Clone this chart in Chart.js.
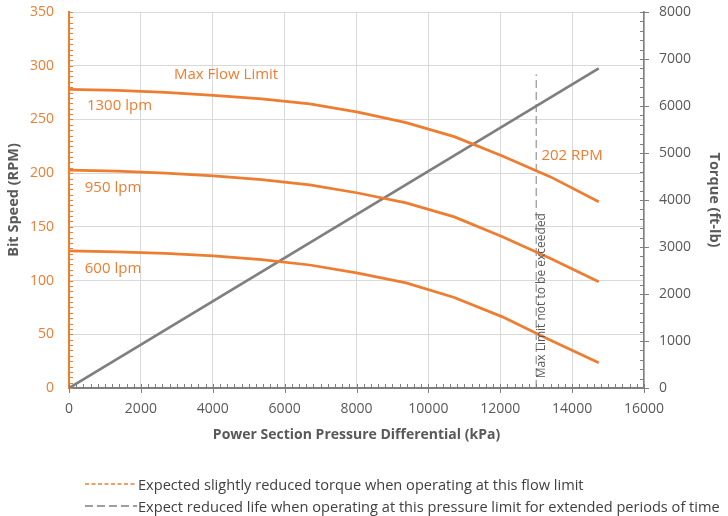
<!DOCTYPE html>
<html>
<head>
<meta charset="utf-8">
<script src="https://cdn.jsdelivr.net/npm/chart.js@4.4.0/dist/chart.umd.min.js"></script>
<style>
  html, body { margin: 0; padding: 0; background: #fff; }
  #wrap { position: relative; width: 728px; height: 516px; }
  #legend { position: absolute; left: 85px; top: 473px; font-family: "Open Sans", sans-serif; font-size: 14.6px; color: #404040; line-height: 22px; }
  #legend .row { display: flex; align-items: center; white-space: nowrap; }
  #legend svg { margin-right: 1px; }
</style>
</head>
<body>
<div id="wrap">
  <canvas id="c" width="728" height="516"></canvas>
  <div id="legend"></div>
</div>
<script>
// ---- data ----
const pressureKPa = [0, 1340, 2680, 4020, 5360, 6700, 8040, 9380, 10720, 12060, 13400, 14740];
const rpm1300 = [278, 277, 275.2, 272.5, 269.2, 264.5, 256.8, 247, 234, 216, 196.5, 173.3];
const rpm950  = [202.8, 201.8, 200, 197.5, 194, 189, 181.5, 172.3, 159.3, 140.7, 120.5, 98.8];
const rpm600  = [127.7, 126.8, 125.3, 123, 119.6, 114.5, 107, 97.9, 84.3, 66.2, 44.5, 23.4];
const torquePressure = [0, 14740];
const torqueFtLb = [0, 6800];
const limitPressure = [13000, 13000];
const limitRpm = [0, 292];
const xTicks = [0, 2000, 4000, 6000, 8000, 10000, 12000, 14000, 16000];
const yTicks = [0, 50, 100, 150, 200, 250, 300, 350];
const y2Ticks = [0, 1000, 2000, 3000, 4000, 5000, 6000, 7000, 8000];
const labels = [
  { text: "Max Flow Limit", x: 4370, y: 292 },
  { text: "1300 lpm", x: 1405, y: 262.5 },
  { text: "950 lpm", x: 1225, y: 186 },
  { text: "600 lpm", x: 1225, y: 111 },
  { text: "202 RPM", x: 14000, y: 216 }
];
const limitLabel = { text: "Max Limit not to be exceeded", x: 13150, y: 86 };
const legendItems = [
  { text: "Expected slightly reduced torque when operating at this flow limit", color: "#ED7D31", dash: "4,2.5" },
  { text: "Expect reduced life when operating at this pressure limit for extended periods of time", color: "#7F7F7F", dash: "8,4" }
];

const ORANGE = "#ED7D31";
const GRAY = "#7F7F7F";
const TXT = "#595959";
const FONT = "'Open Sans', sans-serif";

const pts = (xs, ys) => xs.map((x, i) => ({ x: x, y: ys[i] }));
const plain = v => String(v);
const noPad = s => { s.paddingTop = 0; s.paddingBottom = 0; s.paddingLeft = 0; s.paddingRight = 0; };

const extras = {
  id: "extras",
  afterDraw(chart) {
    const { ctx, chartArea: a, scales: { x, y, y2 } } = chart;
    ctx.save();
    ctx.lineWidth = 1;
    // left minor ticks
    ctx.strokeStyle = ORANGE;
    ctx.beginPath();
    for (let v = 0; v <= 350; v += 5) {
      const py = Math.round(y.getPixelForValue(v)) + 0.5;
      ctx.moveTo(a.left, py); ctx.lineTo(a.left + 4, py);
    }
    ctx.stroke();
    // bottom ticks
    ctx.strokeStyle = GRAY;
    ctx.beginPath();
    for (let v = 0; v <= 16000; v += 200) {
      const px = Math.round(x.getPixelForValue(v)) + 0.5;
      ctx.moveTo(px, a.bottom); ctx.lineTo(px, a.bottom - 4);
      if (v % 2000 === 0) { ctx.moveTo(px, a.bottom); ctx.lineTo(px, a.bottom + 5); }
    }
    // right ticks
    for (let v = 0; v <= 8000; v += 200) {
      const py = Math.round(y2.getPixelForValue(v)) + 0.5;
      ctx.moveTo(a.right, py); ctx.lineTo(a.right - 4, py);
      if (v % 1000 === 0) { ctx.moveTo(a.right, py); ctx.lineTo(a.right + 5, py); }
    }
    ctx.stroke();
    // annotation labels
    ctx.fillStyle = ORANGE;
    ctx.font = "15px " + FONT;
    ctx.textAlign = "center";
    ctx.textBaseline = "middle";
    labels.forEach(l => ctx.fillText(l.text, x.getPixelForValue(l.x), y.getPixelForValue(l.y)));
    // rotated limit label
    ctx.fillStyle = TXT;
    ctx.font = "12px " + FONT;
    ctx.translate(x.getPixelForValue(limitLabel.x), y.getPixelForValue(limitLabel.y));
    ctx.rotate(-Math.PI / 2);
    ctx.fillText(limitLabel.text, 0, 0);
    ctx.restore();
  }
};

new Chart(document.getElementById("c"), {
  type: "scatter",
  data: {
    datasets: [
      { label: "1300 lpm", data: pts(pressureKPa, rpm1300), yAxisID: "y" },
      { label: "950 lpm", data: pts(pressureKPa, rpm950), yAxisID: "y" },
      { label: "600 lpm", data: pts(pressureKPa, rpm600), yAxisID: "y" },
      { label: "Torque", data: pts(torquePressure, torqueFtLb), yAxisID: "y2", borderColor: GRAY, backgroundColor: GRAY },
      { label: "Max Limit", data: pts(limitPressure, limitRpm), yAxisID: "y", borderColor: GRAY, borderWidth: 1, borderDash: [8, 4] }
    ]
  },
  options: {
    responsive: false,
    animation: false,
    devicePixelRatio: 1,
    showLine: true,
    layout: { padding: { top: 12, left: 0, right: 0, bottom: 0 } },
    elements: {
      point: { radius: 0, hoverRadius: 0 },
      line: { borderColor: ORANGE, backgroundColor: ORANGE, borderWidth: 2.75, tension: 0, fill: false, borderCapStyle: "butt" }
    },
    plugins: { legend: { display: false }, tooltip: { enabled: false } },
    scales: {
      x: {
        type: "linear", min: 0, max: 16000,
        afterBuildTicks: s => { s.ticks = xTicks.map(v => ({ value: v })); },
        ticks: { color: TXT, font: { family: FONT, size: 14 }, padding: 13, maxRotation: 0, callback: plain },
        grid: { color: "#D9D9D9", drawTicks: false, lineWidth: 1 },
        border: { color: GRAY, width: 2 },
        title: { display: true, text: "Power Section Pressure Differential (kPa)", color: TXT, font: { family: FONT, size: 14, weight: "bold" }, padding: { top: 0, bottom: 73 } },
        afterFit: s => { s.height = 128; noPad(s); }
      },
      y: {
        type: "linear", position: "left", min: 0, max: 350,
        afterBuildTicks: s => { s.ticks = yTicks.map(v => ({ value: v })); },
        ticks: { color: ORANGE, font: { family: FONT, size: 14 }, padding: 15, callback: plain },
        grid: { color: "#D9D9D9", drawTicks: false, lineWidth: 1 },
        border: { color: ORANGE, width: 2 },
        title: { display: true, text: "Bit Speed (RPM)", color: TXT, font: { family: FONT, size: 14.5, weight: "bold" }, padding: { top: 5, bottom: 0 } },
        afterFit: s => { s.width = 69; noPad(s); }
      },
      y2: {
        type: "linear", position: "right", min: 0, max: 8000,
        afterBuildTicks: s => { s.ticks = y2Ticks.map(v => ({ value: v })); },
        ticks: { color: TXT, font: { family: FONT, size: 14 }, padding: 15, callback: plain },
        grid: { drawOnChartArea: false, drawTicks: false },
        border: { color: GRAY, width: 1.5 },
        title: { display: true, text: "Torque (ft-lb)", color: TXT, font: { family: FONT, size: 14.5, weight: "bold" }, padding: { top: 5, bottom: 0 } },
        afterFit: s => { s.width = 84; noPad(s); }
      }
    }
  },
  plugins: [extras]
});

// HTML legend
const lg = document.getElementById("legend");
legendItems.forEach(it => {
  const row = document.createElement("div");
  row.className = "row";
  row.innerHTML = '<svg width="52" height="10"><line x1="0" y1="5" x2="52" y2="5" stroke="' + it.color +
    '" stroke-width="1.3" stroke-dasharray="' + it.dash + '"/></svg>';
  const sp = document.createElement("span");
  sp.textContent = it.text;
  row.appendChild(sp);
  lg.appendChild(row);
});
</script>
</body>
</html>
